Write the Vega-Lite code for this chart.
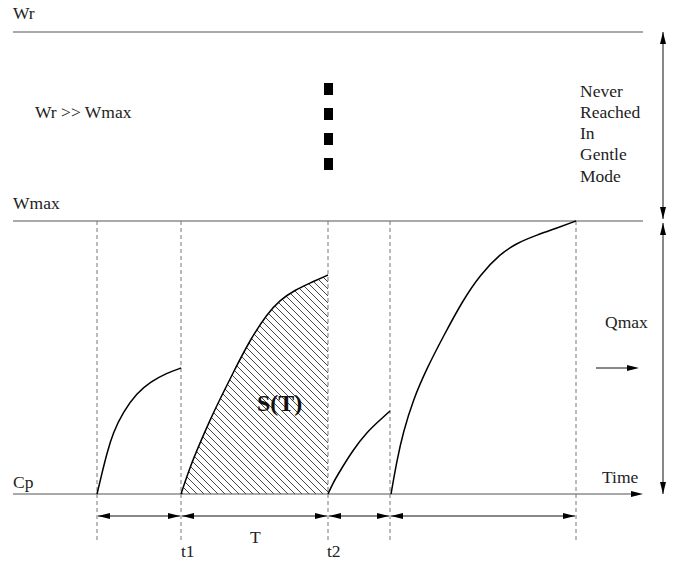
{
  "$schema": "https://vega.github.io/schema/vega-lite/v6.json",
  "width": 673,
  "height": 565,
  "padding": 0,
  "autosize": {"type": "none"},
  "background": "white",
  "config": {"view": {"stroke": null}},
  "datasets": {
    "hatch": [
      {"x":181,"y":128,"x2":328,"y2":275},{"x":181,"y":135,"x2":328,"y2":282},{"x":181,"y":142,"x2":328,"y2":289},
      {"x":181,"y":149,"x2":328,"y2":296},{"x":181,"y":156,"x2":328,"y2":303},{"x":181,"y":163,"x2":328,"y2":310},
      {"x":181,"y":170,"x2":328,"y2":317},{"x":181,"y":177,"x2":328,"y2":324},{"x":181,"y":184,"x2":328,"y2":331},
      {"x":181,"y":191,"x2":328,"y2":338},{"x":181,"y":198,"x2":328,"y2":345},{"x":181,"y":205,"x2":328,"y2":352},
      {"x":181,"y":212,"x2":328,"y2":359},{"x":181,"y":219,"x2":328,"y2":366},{"x":181,"y":226,"x2":328,"y2":373},
      {"x":181,"y":233,"x2":328,"y2":380},{"x":181,"y":240,"x2":328,"y2":387},{"x":181,"y":247,"x2":328,"y2":394},
      {"x":181,"y":254,"x2":328,"y2":401},{"x":181,"y":261,"x2":328,"y2":408},{"x":181,"y":268,"x2":328,"y2":415},
      {"x":181,"y":275,"x2":328,"y2":422},{"x":181,"y":282,"x2":328,"y2":429},{"x":181,"y":289,"x2":328,"y2":436},
      {"x":181,"y":296,"x2":328,"y2":443},{"x":181,"y":303,"x2":328,"y2":450},{"x":181,"y":310,"x2":328,"y2":457},
      {"x":181,"y":317,"x2":328,"y2":464},{"x":181,"y":324,"x2":328,"y2":471},{"x":181,"y":331,"x2":328,"y2":478},
      {"x":181,"y":338,"x2":328,"y2":485},{"x":181,"y":345,"x2":328,"y2":492},{"x":181,"y":352,"x2":323,"y2":494},
      {"x":181,"y":359,"x2":316,"y2":494},{"x":181,"y":366,"x2":309,"y2":494},{"x":181,"y":373,"x2":302,"y2":494},
      {"x":181,"y":380,"x2":295,"y2":494},{"x":181,"y":387,"x2":288,"y2":494},{"x":181,"y":394,"x2":281,"y2":494},
      {"x":181,"y":401,"x2":274,"y2":494},{"x":181,"y":408,"x2":267,"y2":494},{"x":181,"y":415,"x2":260,"y2":494},
      {"x":181,"y":422,"x2":253,"y2":494},{"x":181,"y":429,"x2":246,"y2":494},{"x":181,"y":436,"x2":239,"y2":494},
      {"x":181,"y":443,"x2":232,"y2":494},{"x":181,"y":450,"x2":225,"y2":494},{"x":181,"y":457,"x2":218,"y2":494},
      {"x":181,"y":464,"x2":211,"y2":494},{"x":181,"y":471,"x2":204,"y2":494},{"x":181,"y":478,"x2":197,"y2":494},
      {"x":181,"y":485,"x2":190,"y2":494},{"x":181,"y":492,"x2":183,"y2":494}
    ],
    "curves": [
      {"c":"a","x":97,"y":494},{"c":"a","x":102,"y":473},{"c":"a","x":107,"y":453},{"c":"a","x":113,"y":433},
      {"c":"a","x":123,"y":412},{"c":"a","x":137,"y":393},{"c":"a","x":150,"y":382},{"c":"a","x":167,"y":373},{"c":"a","x":181,"y":368},
      {"c":"b","x":181,"y":494},{"c":"b","x":190,"y":467},{"c":"b","x":200,"y":443},{"c":"b","x":210,"y":420},
      {"c":"b","x":220,"y":399},{"c":"b","x":235,"y":369},{"c":"b","x":250,"y":340},{"c":"b","x":267,"y":314},
      {"c":"b","x":280,"y":300},{"c":"b","x":295,"y":290},{"c":"b","x":310,"y":283},{"c":"b","x":328,"y":275},
      {"c":"c","x":328,"y":494},{"c":"c","x":333,"y":483},{"c":"c","x":340,"y":471},{"c":"c","x":353,"y":450},
      {"c":"c","x":367,"y":432},{"c":"c","x":380,"y":420},{"c":"c","x":390,"y":411},
      {"c":"d","x":391,"y":494},{"c":"d","x":397,"y":460},{"c":"d","x":403,"y":433},{"c":"d","x":413,"y":400},
      {"c":"d","x":427,"y":368},{"c":"d","x":443,"y":337},{"c":"d","x":463,"y":300},{"c":"d","x":480,"y":275},
      {"c":"d","x":500,"y":254},{"c":"d","x":517,"y":243},{"c":"d","x":537,"y":235},{"c":"d","x":557,"y":228},{"c":"d","x":576,"y":221}
    ],
    "rules": [
      {"k":"line","x":13,"y":32,"x2":643,"y2":32},
      {"k":"line","x":13,"y":221,"x2":643,"y2":221},
      {"k":"line","x":13,"y":494,"x2":636,"y2":494},
      {"k":"arrow","x":98,"y":516,"x2":180,"y2":516},
      {"k":"arrow","x":182,"y":516,"x2":327,"y2":516},
      {"k":"arrow","x":329,"y":516,"x2":389,"y2":516},
      {"k":"arrow","x":391,"y":516,"x2":575,"y2":516},
      {"k":"arrow","x":663,"y":32,"x2":663,"y2":219},
      {"k":"arrow","x":663,"y":223,"x2":663,"y2":494},
      {"k":"arrow","x":596,"y":368,"x2":634,"y2":368},
      {"k":"dash","x":97,"y":221,"x2":97,"y2":543},
      {"k":"dash","x":181,"y":221,"x2":181,"y2":543},
      {"k":"dash","x":328,"y":221,"x2":328,"y2":543},
      {"k":"dash","x":390,"y":221,"x2":390,"y2":543},
      {"k":"dash","x":576,"y":221,"x2":576,"y2":543}
    ],
    "heads": [
      {"x":98,"y":516,"a":180},{"x":180,"y":516,"a":0},{"x":182,"y":516,"a":180},{"x":327,"y":516,"a":0},
      {"x":329,"y":516,"a":180},{"x":389,"y":516,"a":0},{"x":391,"y":516,"a":180},{"x":575,"y":516,"a":0},
      {"x":663,"y":32,"a":270},{"x":663,"y":219,"a":90},{"x":663,"y":223,"a":270},{"x":663,"y":494,"a":90},
      {"x":639,"y":368,"a":0},{"x":643,"y":494,"a":0}
    ],
    "squares": [
      {"x":324,"x2":333,"y":83,"y2":95},{"x":324,"x2":333,"y":108,"y2":120},
      {"x":324,"x2":333,"y":133,"y2":145},{"x":324,"x2":333,"y":158,"y2":170}
    ],
    "labels": [
      {"t":"Wr","x":13,"y":19},{"t":"Wr >> Wmax","x":35,"y":118},{"t":"Wmax","x":13,"y":209},
      {"t":"Never","x":580,"y":97},{"t":"Reached","x":580,"y":118},{"t":"In","x":580,"y":139},
      {"t":"Gentle","x":580,"y":160},{"t":"Mode","x":580,"y":182},
      {"t":"Qmax","x":605,"y":328},{"t":"Time","x":602,"y":483},{"t":"Cp","x":13,"y":488},
      {"t":"t1","x":181,"y":557},{"t":"T","x":250,"y":543},{"t":"t2","x":327,"y":557}
    ]
  },
  "encoding": {
    "x": {"field":"x","type":"quantitative","axis":null,"scale":{"domain":[0,673],"nice":false,"zero":false}},
    "y": {"field":"y","type":"quantitative","axis":null,"scale":{"domain":[0,565],"nice":false,"zero":false,"reverse":true}}
  },
  "layer": [
    {
      "data": {"name":"hatch"},
      "mark": {"type":"rule","color":"#333","strokeWidth":0.9},
      "encoding": {"x2":{"field":"x2"},"y2":{"field":"y2"}}
    },
    {
      "data": {"name":"curves"},
      "transform": [{"filter":"datum.c === 'b'"}],
      "mark": {"type":"area","interpolate":"basis","color":"white","opacity":1,"orient":"vertical"},
      "encoding": {"y2":{"datum":125}}
    },
    {
      "data": {"name":"rules"},
      "transform": [{"filter":"datum.k === 'line'"}],
      "mark": {"type":"rule","color":"#555","strokeWidth":1.2},
      "encoding": {"x2":{"field":"x2"},"y2":{"field":"y2"}}
    },
    {
      "data": {"name":"rules"},
      "transform": [{"filter":"datum.k === 'arrow'"}],
      "mark": {"type":"rule","color":"#111","strokeWidth":1},
      "encoding": {"x2":{"field":"x2"},"y2":{"field":"y2"}}
    },
    {
      "data": {"name":"rules"},
      "transform": [{"filter":"datum.k === 'dash'"}],
      "mark": {"type":"rule","color":"#777","strokeWidth":1,"strokeDash":[4,3]},
      "encoding": {"x2":{"field":"x2"},"y2":{"field":"y2"}}
    },
    {
      "data": {"name":"squares"},
      "mark": {"type":"rect","color":"black"},
      "encoding": {"x2":{"field":"x2"},"y2":{"field":"y2"}}
    },
    {
      "data": {"name":"curves"},
      "mark": {"type":"line","interpolate":"basis","color":"black","strokeWidth":1.5},
      "encoding": {"detail":{"field":"c"}}
    },
    {
      "data": {"name":"heads"},
      "mark": {"type":"point","shape":"M0,0L-2,-0.5L-2,0.5Z","filled":true,"color":"black","opacity":1,"size":144,"strokeWidth":0},
      "encoding": {"angle":{"field":"a","type":"quantitative","scale":null}}
    },
    {
      "data": {"name":"labels"},
      "mark": {"type":"text","font":"Liberation Serif","fontSize":17.5,"color":"#222","align":"left","baseline":"alphabetic"},
      "encoding": {"text":{"field":"t"}}
    },
    {
      "data": {"values":[{"t":"S(T)","x":257,"y":411}]},
      "mark": {"type":"text","font":"Liberation Serif","fontSize":24,"fontWeight":"bold","color":"#111","align":"left","baseline":"alphabetic"},
      "encoding": {"text":{"field":"t"}}
    }
  ]
}
